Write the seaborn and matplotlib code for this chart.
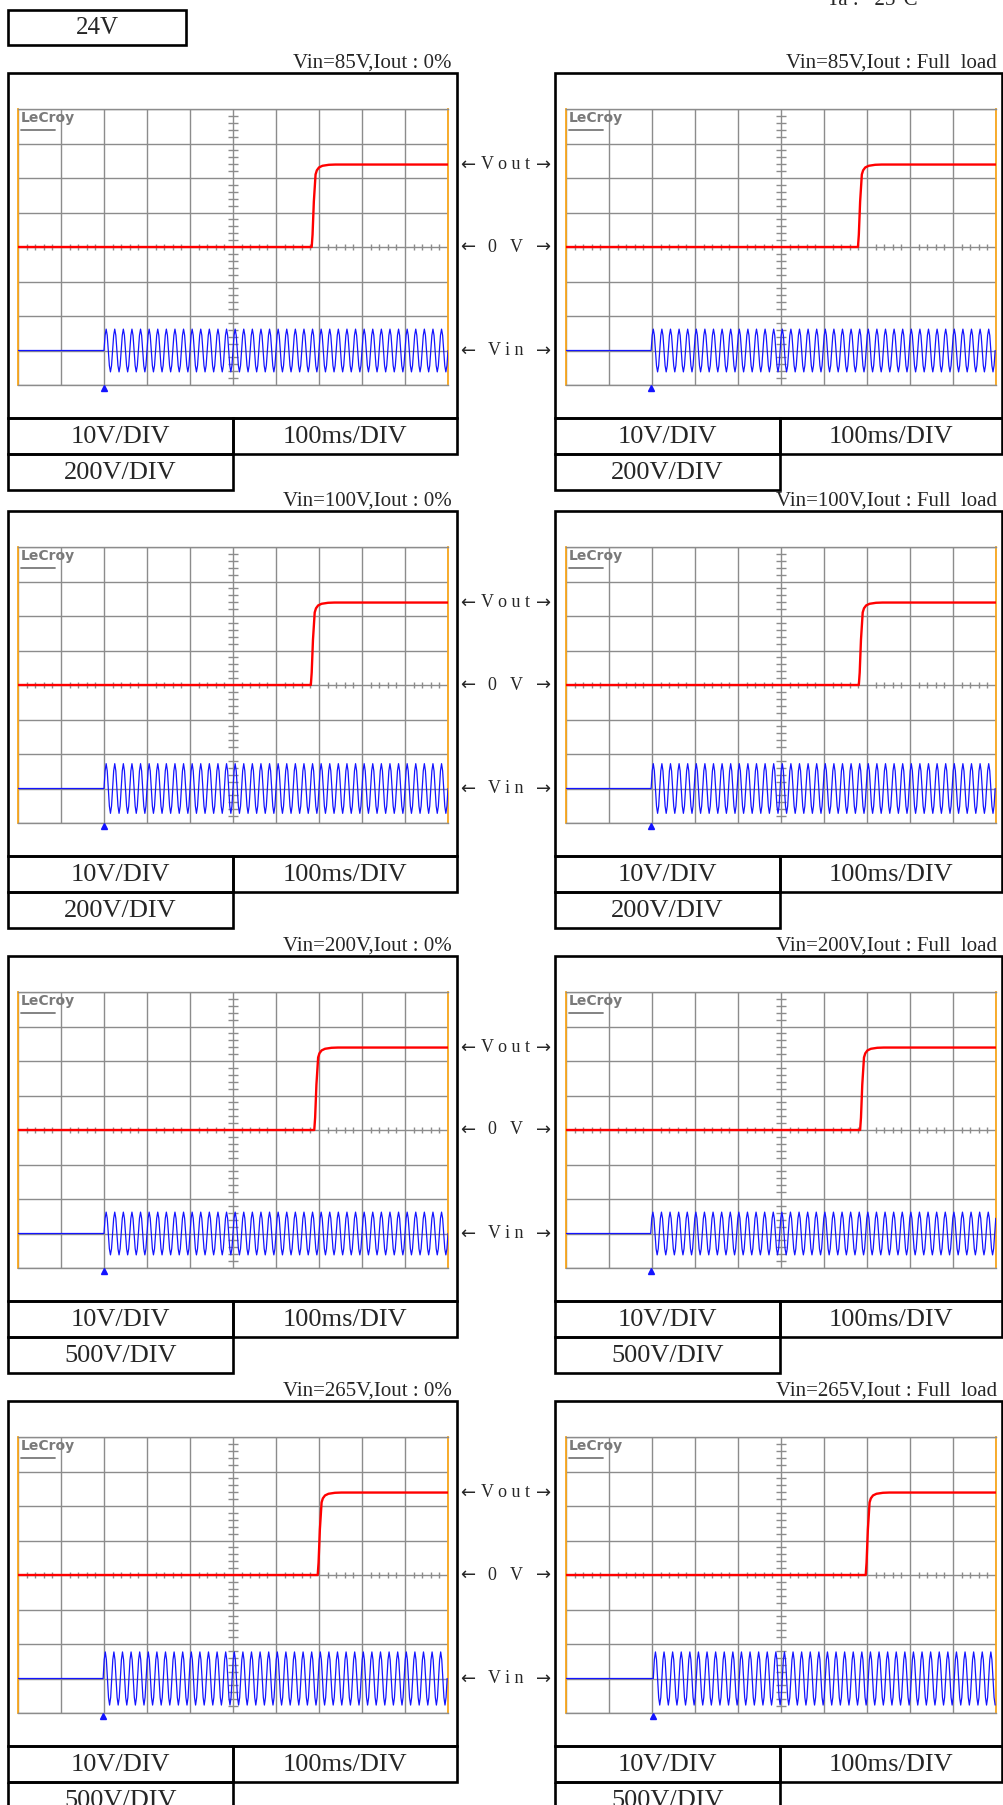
"""Start-up waveforms of the 24V unit (Vin vs Vout), eight LeCroy scope shots."""
import matplotlib
matplotlib.use("Agg")
import matplotlib.pyplot as plt
import matplotlib.transforms as mtransforms
from matplotlib.patches import Rectangle
import numpy as np
import seaborn as sns

sns.set_theme(style="white")
plt.rcParams["font.family"] = ["Liberation Serif", "DejaVu Serif"]

W, H = 1004, 1805

model_label = "24V"
ambient_label = "Ta :   25°C"
vin_rms = [85, 100, 200, 265]
load_labels = ["0%", "Full  load"]
vout_div_label = "10V/DIV"
time_div_label = "100ms/DIV"
vin_volts_per_div = [200, 200, 500, 500]
vout_volts_per_div = 10
vout_final = 23.9                      # V
vin_zero_div = -3                      # Vin channel ground level (div)
# per row: [0% load, full load]
vin_peak_div = [[0.62, 0.62], [0.72, 0.72], [0.62, 0.62], [0.77, 0.77]]
vin_start_div = [[2.0, 1.98], [2.0, 1.98], [2.0, 1.97], [1.98, 2.03]]
vout_rise_div = [[6.83, 6.79], [6.81, 6.81], [6.89, 6.84], [6.97, 6.97]]
# Vout edge: time after rise start (div) vs fraction of final value
rise_dt = [0.0, 0.02, 0.05, 0.09, 0.12, 0.17, 0.25, 0.40, 0.55]
rise_frac = [0.0, 0.15, 0.55, 0.88, 0.93, 0.965, 0.985, 0.997, 1.0]
# one mains cycle as sampled by the scope (fraction of peak)
vin_cycle = [0.0, 0.71, 1.0, 0.71, 0.0, -0.71, -1.0, -0.71]
cycles_per_div = 5                     # 50 Hz at 100 ms/div
channel_marks = ["V o u t", "0   V", "V i n"]

# ---- layout (pixels) ----
grid_top = [109, 547, 992, 1437]
GRID_H = 276
cols = [dict(bx0=8, bx1=457, mid=233, gx0=18, gx1=448),
        dict(bx0=555, bx1=1002, mid=780, gx0=566, gx1=996)]
ARROW_X = 506

GRID_C = "#8c8c8c"
EDGE_C = "#f8a61c"
RED = "#ff0000"
BLUE = "#1414ff"
LW_BOX = 1.9


def draw_scope(ax, r, c):
    ax.set_xlim(0, 10)
    ax.set_ylim(-4, 4)
    ax.set_xticks(np.arange(0, 11))
    ax.set_yticks(np.arange(-4, 5))
    ax.grid(True, color=GRID_C, lw=1.0)
    ax.tick_params(length=0, labelbottom=False, labelleft=False)
    for s in ["top", "bottom"]:
        ax.spines[s].set_color(GRID_C)
        ax.spines[s].set_linewidth(1.0)
    for s in ["left", "right"]:
        ax.spines[s].set_color(EDGE_C)
        ax.spines[s].set_linewidth(1.3)

    # centre-cross graticule ticks
    xs = [x for x in np.arange(0.2, 10, 0.2) if abs(x - round(x)) > 1e-6]
    ys = [y for y in np.arange(-3.8, 4, 0.2) if abs(y - round(y)) > 1e-6]
    ax.vlines(xs, -0.08, 0.08, color=GRID_C, lw=1.0, zorder=1)
    ax.hlines(ys, 4.88, 5.12, color=GRID_C, lw=1.0, zorder=1)

    # Vin trace (blue)
    t0 = vin_start_div[r][c]
    dt = 1.0 / (cycles_per_div * len(vin_cycle))
    n = int((10 - t0) / dt) + 1
    t_sin = t0 + dt * np.arange(n)
    v_sin = np.resize(vin_cycle, n) * vin_peak_div[r][c] + vin_zero_div
    t_in = np.concatenate([[0.0], t_sin])
    v_in = np.concatenate([[vin_zero_div], v_sin])
    sns.lineplot(x=t_in, y=v_in, ax=ax, color=BLUE, lw=0.9,
                 estimator=None, sort=False, zorder=3)
    ax.plot([t0], [-4.09], marker="^", ms=4, color=BLUE, clip_on=False, zorder=4)

    # Vout trace (red)
    tr = vout_rise_div[r][c]
    t_out = np.concatenate([[0.0], tr + np.array(rise_dt), [10.0]])
    f_out = np.concatenate([[0.0], rise_frac, [1.0]])
    v_out = f_out * vout_final / vout_volts_per_div
    sns.lineplot(x=t_out, y=v_out, ax=ax, color=RED, lw=1.7,
                 estimator=None, sort=False, zorder=4)

    # LeCroy logo
    ax.text(0.06, 3.93, "LeCroy", ha="left", va="top", color="#7a7a7a",
            fontsize=10, fontweight="bold", family="DejaVu Sans", zorder=5)
    ax.plot([0.06, 0.85], [3.4, 3.4], color="#7a7a7a", lw=1.3, zorder=5)
    ax.set_xlabel("")
    ax.set_ylabel("")


fig = plt.figure(figsize=(W / 100, H / 100), dpi=100)
bg = fig.add_axes([0, 0, 1, 1])
bg.set_xlim(0, W)
bg.set_ylim(H, 0)
bg.axis("off")

bg.add_patch(Rectangle((8, 10), 178, 35, fill=False, ec="black", lw=LW_BOX))
bg.text(97, 28, model_label, ha="center", va="center", fontsize=18)
bg.text(827, 5, ambient_label, ha="left", va="baseline", fontsize=15)

for r, g in enumerate(grid_top):
    for c, col in enumerate(cols):
        bx0, bx1, mid = col["bx0"], col["bx1"], col["mid"]
        # title
        bg.text(bx1 - 5, g - 46, f"Vin={vin_rms[r]}V,Iout : {load_labels[c]}",
                ha="right", va="center", fontsize=15)
        # frame and setting table
        bg.add_patch(Rectangle((bx0, g - 36), bx1 - bx0, 345, fill=False,
                               ec="black", lw=LW_BOX))
        bg.add_patch(Rectangle((bx0, g + 309), mid - bx0, 36, fill=False,
                               ec="black", lw=LW_BOX))
        bg.add_patch(Rectangle((mid, g + 309), bx1 - mid, 36, fill=False,
                               ec="black", lw=LW_BOX))
        bg.add_patch(Rectangle((bx0, g + 345), mid - bx0, 36, fill=False,
                               ec="black", lw=LW_BOX))
        bg.text((bx0 + mid) / 2, g + 328, vout_div_label, ha="center",
                va="center", fontsize=19)
        bg.text((mid + bx1) / 2, g + 328, time_div_label, ha="center",
                va="center", fontsize=19)
        bg.text((bx0 + mid) / 2, g + 364, f"{vin_volts_per_div[r]}V/DIV",
                ha="center", va="center", fontsize=19)

        ax = fig.add_axes([col["gx0"] / W, 1 - (g + GRID_H) / H,
                           (col["gx1"] - col["gx0"]) / W, GRID_H / H])
        draw_scope(ax, r, c)
        if c == 0:
            left_ax = ax

    # channel markers between the two shots
    tr = mtransforms.blended_transform_factory(bg.transData, left_ax.transData)
    levels = [vout_final / vout_volts_per_div, 0.0, vin_zero_div]
    for label, y in zip(channel_marks, levels):
        bg.text(ARROW_X, y, label, transform=tr, ha="center", va="center",
                fontsize=13, clip_on=False)
        bg.text(ARROW_X - 38, y, "←", transform=tr, ha="center", va="center",
                fontsize=13, family="DejaVu Sans", clip_on=False)
        bg.text(ARROW_X + 38, y, "→", transform=tr, ha="center", va="center",
                fontsize=13, family="DejaVu Sans", clip_on=False)

fig.savefig("out.png", dpi=100)
